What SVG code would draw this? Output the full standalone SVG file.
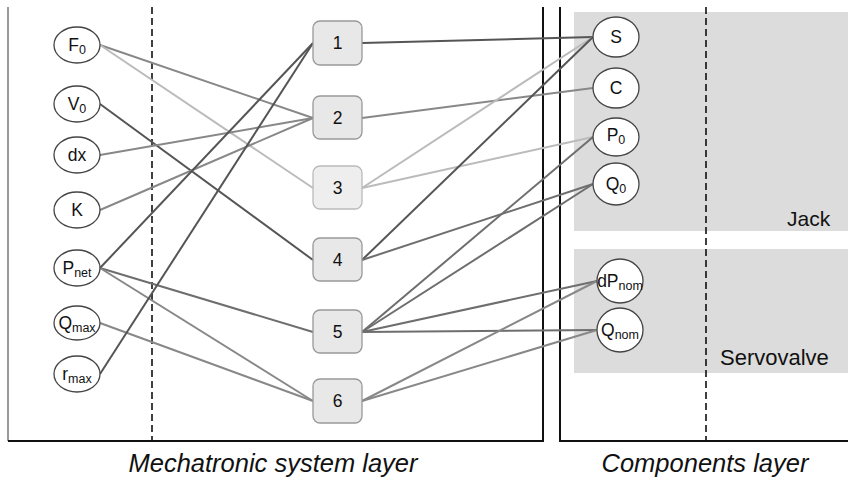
<svg xmlns="http://www.w3.org/2000/svg" width="848" height="484" viewBox="0 0 848 484">
<style>
.nd{fill:#fff;stroke:#444;stroke-width:1.3}
.bx{fill:#e8e8e8;stroke:#999;stroke-width:1.3}
.t{font-family:"Liberation Sans",Arial,sans-serif;font-size:17.5px;fill:#111;text-anchor:middle}
.s{font-size:12.5px}
.c line{stroke-width:2;fill:none}
.d{stroke:#555}.m{stroke:#888}.l{stroke:#bbb}.md{stroke:#6e6e6e}
.dash{stroke:#111;stroke-width:1.6;stroke-dasharray:7,4;fill:none}
.lbl{font-family:"Liberation Sans",Arial,sans-serif;fill:#111}
</style>
<rect width="848" height="484" fill="#fff"/>
<g id="frames">
<rect x="574" y="12" width="274" height="219" fill="#dcdcdc"/>
<rect x="574" y="249" width="274" height="124" fill="#dcdcdc"/>
<line x1="8" y1="7" x2="8" y2="441" stroke="#777" stroke-width="1.5"/>
<polyline points="8,441 543,441 543,7" fill="none" stroke="#111" stroke-width="2"/>
<polyline points="560,7 560,441 848,441" fill="none" stroke="#111" stroke-width="2"/>
<line class="dash" x1="152" y1="7" x2="152" y2="441"/>
<line class="dash" x1="706" y1="7" x2="706" y2="441"/>
<text class="lbl" x="787" y="226" font-size="21">Jack</text>
<text class="lbl" x="720" y="365" font-size="22">Servovalve</text>
<text class="lbl" x="273" y="472" font-size="25.5" font-style="italic" text-anchor="middle">Mechatronic system layer</text>
<text class="lbl" x="705" y="472" font-size="25.5" font-style="italic" text-anchor="middle">Components layer</text>
</g>
<g id="connectors" class="c">
<line class="m" x1="100" y1="45" x2="313" y2="118"/>
<line class="l" x1="100" y1="45" x2="313" y2="188"/>
<line class="d" x1="100" y1="104" x2="313" y2="260"/>
<line class="m" x1="100" y1="155" x2="313" y2="118"/>
<line class="m" x1="100" y1="210" x2="313" y2="118"/>
<line class="d" x1="100" y1="268" x2="313" y2="43"/>
<line class="md" x1="100" y1="268" x2="313" y2="332"/>
<line class="m" x1="100" y1="268" x2="313" y2="401"/>
<line class="m" x1="100" y1="323" x2="313" y2="401"/>
<line class="d" x1="100" y1="374" x2="313" y2="43"/>
<line class="d" x1="362" y1="43" x2="593" y2="37"/>
<line class="m" x1="362" y1="118" x2="593" y2="88"/>
<line class="l" x1="362" y1="188" x2="593" y2="37"/>
<line class="l" x1="362" y1="188" x2="593" y2="137"/>
<line class="d" x1="362" y1="260" x2="593" y2="37"/>
<line class="md" x1="362" y1="260" x2="593" y2="184"/>
<line class="md" x1="362" y1="332" x2="593" y2="137"/>
<line class="md" x1="362" y1="332" x2="593" y2="184"/>
<line class="md" x1="362" y1="332" x2="597" y2="281"/>
<line class="md" x1="362" y1="332" x2="597" y2="330"/>
<line class="m" x1="362" y1="401" x2="597" y2="281"/>
<line class="m" x1="362" y1="401" x2="597" y2="330"/>
</g>
<g id="F0"><ellipse class="nd" cx="77" cy="45" rx="23" ry="18"/><text class="t" x="77" y="51">F<tspan class="s" dy="3">0</tspan></text></g>
<g id="V0"><ellipse class="nd" cx="77" cy="104" rx="23" ry="18"/><text class="t" x="77" y="110">V<tspan class="s" dy="3">0</tspan></text></g>
<g id="dx"><ellipse class="nd" cx="77" cy="155" rx="23" ry="18"/><text class="t" x="77" y="161">dx</text></g>
<g id="K"><ellipse class="nd" cx="77" cy="210" rx="23" ry="18"/><text class="t" x="77" y="216">K</text></g>
<g id="Pnet"><ellipse class="nd" cx="77" cy="268" rx="23" ry="18"/><text class="t" x="77" y="274">P<tspan class="s" dy="3">net</tspan></text></g>
<g id="Qmax"><ellipse class="nd" cx="77" cy="323" rx="23" ry="17"/><text class="t" x="77" y="329">Q<tspan class="s" dy="3">max</tspan></text></g>
<g id="rmax"><ellipse class="nd" cx="77" cy="374" rx="23" ry="18"/><text class="t" x="77" y="380">r<tspan class="s" dy="3">max</tspan></text></g>
<g id="b1"><rect class="bx" x="313" y="21" width="49" height="44" rx="7" stroke="#777"/><text class="t" x="337.5" y="49">1</text></g>
<g id="b2"><rect class="bx" x="313" y="96" width="49" height="43" rx="7"/><text class="t" x="337.5" y="124">2</text></g>
<g id="b3"><rect class="bx" x="313" y="166" width="49" height="43" rx="7" style="stroke:#bbb;fill:#eee"/><text class="t" x="337.5" y="194">3</text></g>
<g id="b4"><rect class="bx" x="313" y="238" width="49" height="43" rx="7"/><text class="t" x="337.5" y="266">4</text></g>
<g id="b5"><rect class="bx" x="313" y="310" width="49" height="43" rx="7"/><text class="t" x="337.5" y="338">5</text></g>
<g id="b6"><rect class="bx" x="313" y="379" width="49" height="44" rx="7"/><text class="t" x="337.5" y="407">6</text></g>
<g id="S"><ellipse class="nd" cx="616" cy="37" rx="23" ry="20"/><text class="t" x="616" y="43">S</text></g>
<g id="C"><ellipse class="nd" cx="616" cy="88" rx="23" ry="20"/><text class="t" x="616" y="94">C</text></g>
<g id="P0"><ellipse class="nd" cx="616" cy="137" rx="23" ry="19"/><text class="t" x="616" y="141">P<tspan class="s" dy="3">0</tspan></text></g>
<g id="Q0"><ellipse class="nd" cx="616" cy="184" rx="23" ry="21"/><text class="t" x="616" y="190">Q<tspan class="s" dy="3">0</tspan></text></g>
<g id="dPnom"><ellipse class="nd" cx="620" cy="281" rx="23" ry="22"/><text class="t" x="620" y="287">dP<tspan class="s" dy="3">nom</tspan></text></g>
<g id="Qnom"><ellipse class="nd" cx="620" cy="330" rx="23" ry="22"/><text class="t" x="620" y="336">Q<tspan class="s" dy="3">nom</tspan></text></g>
</svg>
